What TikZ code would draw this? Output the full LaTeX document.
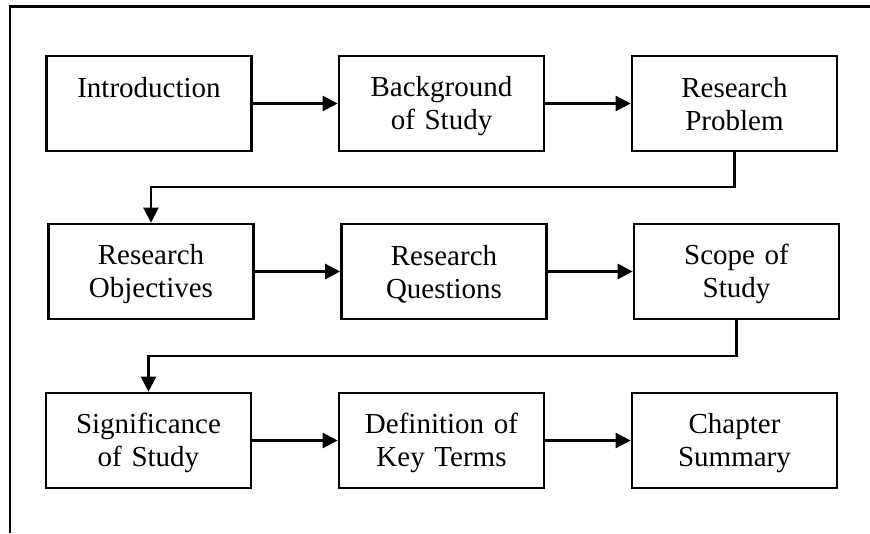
\documentclass[tikz,border=0pt]{standalone}
\usepackage{fontspec}
\setmainfont{Liberation Serif}
\usetikzlibrary{arrows.meta}
\newcommand{\boxtext}[2]{\rule{0pt}{25pt}#1\\#2\rule[-4.7pt]{0pt}{4.7pt}}
\begin{document}
\begin{tikzpicture}[x=1pt,y=-1pt,
  stepbox/.style={draw, line width=2.6pt, minimum width=205pt, minimum height=95pt,
    inner sep=0pt, text width=200pt, align=center,
    font=\fontsize{29}{33.3}\selectfont},
  arr/.style={line width=2.3pt, -{Triangle[length=15pt,width=15pt]}},
  conn/.style={line width=2.3pt, -{Triangle[length=15pt,width=15pt]}}
]
\useasboundingbox (0,0) rectangle (870,533);
% frame
\coordinate (fb) at (10,533);
\coordinate (fc) at (10,6.5);
\coordinate (fr) at (870,6.5);
\draw[line width=2.4pt] (fb) -- (fc) -- (fr);
% row 1
\node[stepbox] (intro) at (149,103.5) {\boxtext{Introduction}{}};
\node[stepbox] (back) at (441.5,103.5) {\boxtext{Background}{of Study}};
\node[stepbox] (prob) at (734.5,103.5) {\boxtext{Research}{Problem}};
% row 2
\node[stepbox] (obj) at (151,271.5) {\boxtext{Research}{Objectives}};
\node[stepbox] (ques) at (444,271.5) {\boxtext{Research}{Questions}};
\node[stepbox] (scope) at (736.5,271.5) {\boxtext{Scope of}{Study}};
% row 3
\node[stepbox] (sig) at (148.5,440.5) {\boxtext{Significance}{of Study}};
\node[stepbox] (defn) at (441.5,440.5) {\boxtext{Definition of}{Key Terms}};
\node[stepbox] (chap) at (734.5,440.5) {\boxtext{Chapter}{Summary}};
% horizontal arrows
\draw[arr] (intro.east) -- (back.west);
\draw[arr] (back.east) -- (prob.west);
\draw[arr] (obj.east) -- (ques.west);
\draw[arr] (ques.east) -- (scope.west);
\draw[arr] (sig.east) -- (defn.west);
\draw[arr] (defn.east) -- (chap.west);
% row connectors
\coordinate (j1) at (0,187);
\coordinate (j2) at (0,355.7);
\draw[conn] (prob.south) -- (prob.south |- j1) -- (obj.north |- j1) -- (obj.north);
\draw[conn] (scope.south) -- (scope.south |- j2) -- (sig.north |- j2) -- (sig.north);
\end{tikzpicture}
\end{document}
